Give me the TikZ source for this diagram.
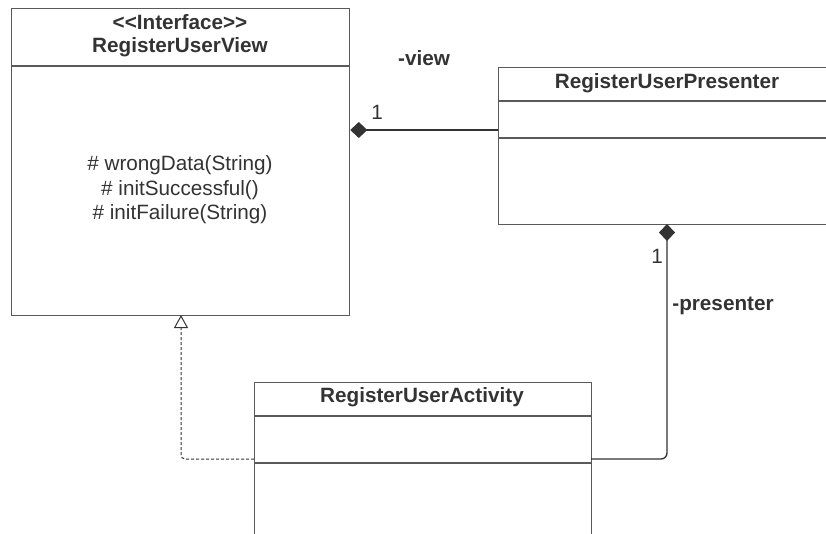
\documentclass[tikz,border=0pt]{standalone}
\usepackage{fontspec}
\setmainfont{Liberation Sans}
\usetikzlibrary{arrows.meta}
\definecolor{ln}{HTML}{5A5A5A}
\definecolor{tx}{HTML}{333333}
\begin{document}
\begin{tikzpicture}[x=1pt,y=-1pt,
  box/.style={draw=ln, line width=1.3pt, rectangle, inner sep=0pt, anchor=north west},
  sep/.style={draw=ln, line width=1.3pt},
  ttl/.style={text=tx, font=\fontsize{20.7}{24}\selectfont\bfseries, inner sep=0pt},
  lbl/.style={text=tx, font=\fontsize{20.7}{24.5}\selectfont, inner sep=0pt},
  conn/.style={draw=tx, line width=1.3pt},
  comp/.style={conn, {Diamond[fill=tx, length=17pt, width=16pt, line width=0pt]}-},
  real/.style={conn, line width=1pt, dash pattern=on 3pt off 2pt, rounded corners=4pt,
    -{Triangle[open, fill=white, length=13pt, width=14pt, line width=1pt]}}]
\useasboundingbox (0,0) rectangle (826,533);
\fill[white] (0,0) rectangle (826,533);
\clip (0,0) rectangle (826,533);

% RegisterUserView
\node[box, minimum width=338pt, minimum height=307pt] (view) at (11,8) {};
\draw[sep] (11,66) -- (349,66);
\node[ttl] (viewst) at (180,22) {<\kern0pt<Interface>\kern0pt>};
\node[ttl] (viewn) at (180,47) {RegisterUserView};
\node[lbl, align=center] (viewm) at (180,190) {\# wrongData(String)\\ \# initSuccessful()\\ \# initFailure(String)};

% RegisterUserPresenter
\node[box, minimum width=338pt, minimum height=157pt] (pres) at (498,67) {};
\draw[sep] (498,101) -- (836,101);
\draw[sep] (498,138) -- (836,138);
\node[ttl] (presn) at (667,83) {RegisterUserPresenter};

% RegisterUserActivity
\node[box, minimum width=337pt, minimum height=200pt] (act) at (254,382) {};
\draw[sep] (254,416) -- (591,416);
\draw[sep] (254,463) -- (591,463);
\node[ttl] (actn) at (422,397) {RegisterUserActivity};

% connectors
\coordinate (vd) at (view.east |- 0,130);
\coordinate (pw) at (pres.west |- 0,130);
\draw[comp] (vd) -- (pw);
\node[lbl] (m1) at (377,112) {1};
\node[ttl] (rv) at (424,58) {-view};

\coordinate (pd) at (667,224);
\coordinate (ae) at (591,459);
\draw[comp, rounded corners=6pt] (pd) |- (ae);
\node[lbl] (m2) at (657,256) {1};
\node[ttl] (rp) at (723,306) {-presenter};

\coordinate (aw) at (254,459);
\coordinate (vb) at (181,315);
\draw[real] (aw) -| (vb);
\end{tikzpicture}
\end{document}
